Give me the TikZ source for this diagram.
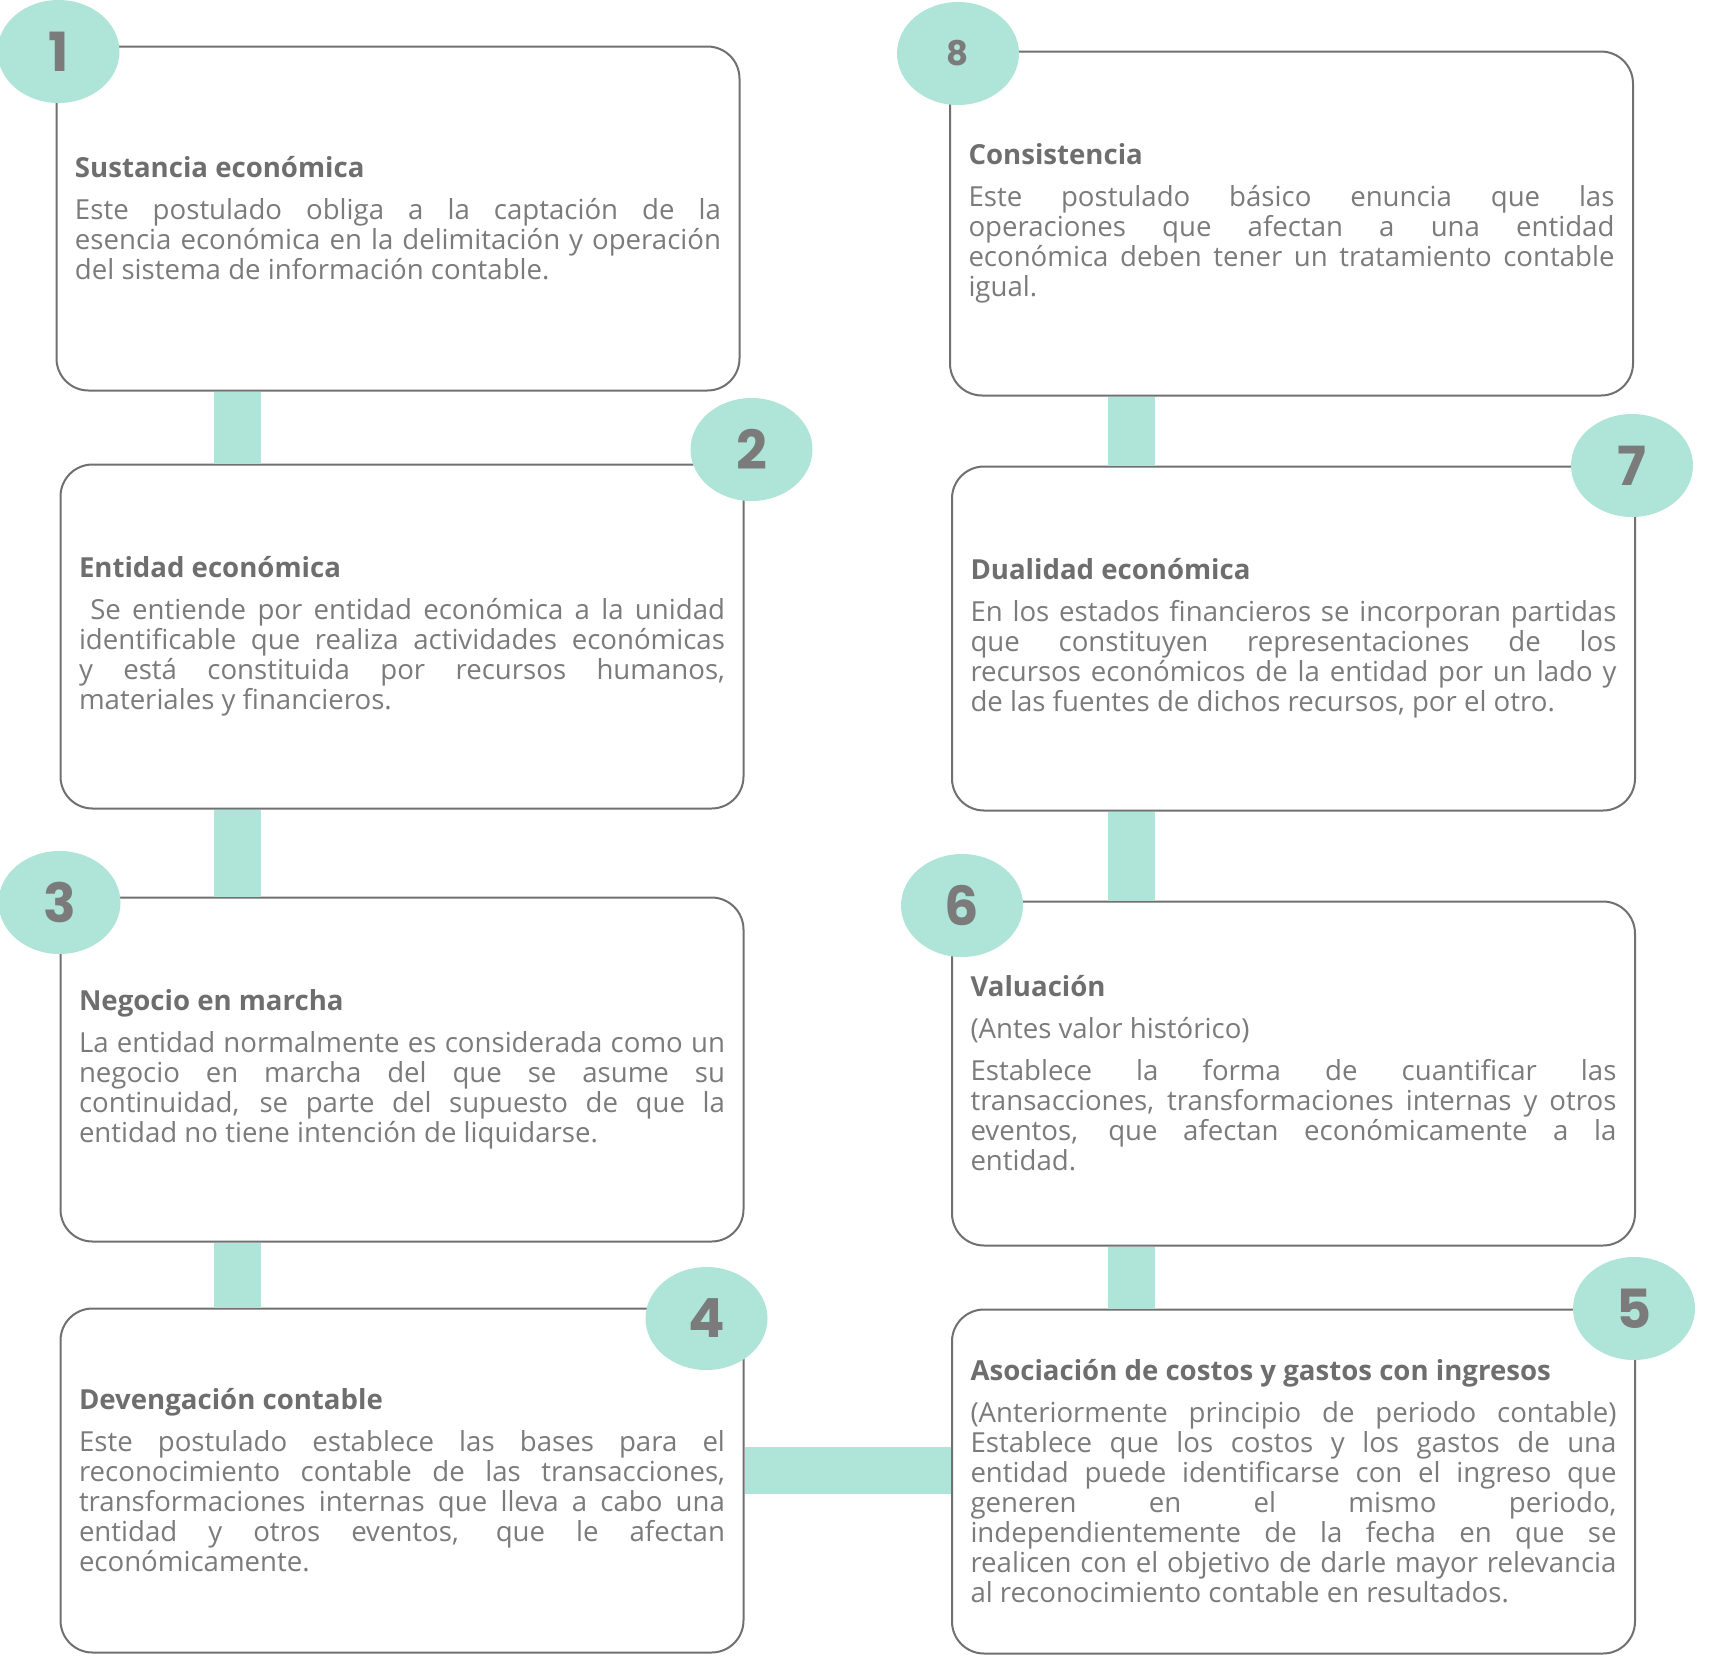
\documentclass[tikz,border=0pt]{standalone}
\usepackage{fontspec}
\setmainfont{Open Sans}
\newfontfamily\numfont{Poppins}
\usepackage{tikz}
\usetikzlibrary{positioning,shapes.geometric}
\definecolor{menta}{HTML}{AEE5D8}
\definecolor{gristxt}{HTML}{7B7B7B}
\definecolor{gristit}{HTML}{6E6E6E}
\definecolor{grisbox}{HTML}{707070}
\tolerance=10000
\hyphenpenalty=10000
\newcommand{\postulado}[2]{{\bfseries\color{gristit}#1}\par\vspace{6pt}#2}

\begin{document}
\begin{tikzpicture}[x=0.5pt,y=-0.5pt,
    caja/.style={draw=grisbox,line width=1pt,rounded corners=16pt,fill=white,
      minimum width=341.5pt,minimum height=172pt,text width=323pt,align=justify,
      text=gristxt,font=\fontsize{13.8}{15}\selectfont},
    numero/.style={ellipse,fill=menta,minimum width=61pt,minimum height=51.5pt,
      inner sep=0pt,text=gristxt,font=\numfont\bfseries\fontsize{27}{27}\selectfont},
    barra/.style={menta,line width=23.5pt}]
  \useasboundingbox (0,0) rectangle (1720,1656);

  %left column
  \node[caja] (b1) at (398,218.5) {\postulado{Sustancia económica}{Este postulado obliga a la captación de la\linebreak esencia económica en la delimitación y operación\linebreak del sistema de información contable.}};
  \node[caja,below=36pt of b1,xshift=2pt] (b2) {\postulado{Entidad económica}{\ Se entiende por entidad económica a la unidad\linebreak identificable que realiza actividades económicas\linebreak y está constituida por recursos humanos,\linebreak materiales y financieros.}};
  \node[caja,below=43.5pt of b2] (b3) {\postulado{Negocio en marcha}{La entidad normalmente es considerada como un\linebreak negocio en marcha del que se asume su\linebreak continuidad, se parte del supuesto de que la\linebreak entidad no tiene intención de liquidarse.}};
  \node[caja,below=32.5pt of b3] (b4) {\postulado{Devengación contable}{Este postulado establece las bases para el\linebreak reconocimiento contable de las transacciones,\linebreak transformaciones internas que lleva a cabo una\linebreak entidad y otros eventos, que le afectan\linebreak económicamente.}};

  %right column
  \node[caja] (b8) at (1291.5,223.5) {\postulado{Consistencia}{Este postulado básico enuncia que las\linebreak operaciones que afectan a una entidad\linebreak económica deben tener un tratamiento contable\linebreak igual.}};
  \node[caja,below=34.5pt of b8,xshift=1pt] (b7) {\postulado{Dualidad económica}{En los estados financieros se incorporan partidas\linebreak que constituyen representaciones de los\linebreak recursos económicos de la entidad por un lado y\linebreak de las fuentes de dichos recursos, por el otro.}};
  \node[caja,below=44.5pt of b7] (b6) {\postulado{Valuación}{(Antes valor histórico)\par\vspace{6pt}Establece la forma de cuantificar las\linebreak transacciones, transformaciones internas y otros\linebreak eventos, que afectan económicamente a la\linebreak entidad.}};
  \node[caja,below=31pt of b6] (b5) {\postulado{Asociación de costos y gastos con ingresos}{(Anteriormente principio de periodo contable)\linebreak Establece que los costos y los gastos de una\linebreak entidad puede identificarse con el ingreso que\linebreak generen en el mismo periodo,\linebreak independientemente de la fecha en que se\linebreak realicen con el objetivo de darle mayor relevancia\linebreak al reconocimiento contable en resultados.}};

  %1>2>3>4
  \draw[barra] ([xshift=91pt]b1.south west) -- ([xshift=89pt]b2.north west);
  \draw[barra] ([xshift=89pt]b2.south west) -- ([xshift=89pt]b3.north west);
  \draw[barra] ([xshift=89pt]b3.south west) -- ([xshift=89pt]b4.north west);
  %4>5
  \draw[barra] ([yshift=5pt]b4.east) -- ([yshift=5pt]b4.east -| b5.west);
  %5>6>7>8
  \draw[barra] ([xshift=90pt]b5.north west) -- ([xshift=90pt]b6.south west);
  \draw[barra] ([xshift=90pt]b6.north west) -- ([xshift=90pt]b7.south west);
  \draw[barra] ([xshift=90pt]b7.north west) -- ([xshift=91pt]b8.south west);

  %numbers
  \node[numero] (n1) at ([xshift=1.5pt,yshift=-3pt]b1.north west) {1};
  \node[numero] (n2) at ([xshift=3.5pt,yshift=7pt]b2.north east) {2};
  \node[numero] (n3) at ([yshift=-3pt]b3.north west) {3};
  \node[numero] (n4) at ([xshift=-19pt,yshift=-5.5pt]b4.north east) {4};
  \node[numero] (n5) at ([xshift=-1pt]b5.north east) {5};
  \node[numero] (n6) at ([xshift=5.5pt,yshift=-2.5pt]b6.north west) {6};
  \node[numero] (n7) at ([xshift=-2pt]b7.north east) {7};
  \node[numero,font=\numfont\bfseries\fontsize{17}{17}\selectfont] (n8) at ([xshift=4.5pt,yshift=-1.5pt]b8.north west) {8};
\end{tikzpicture}
\end{document}
